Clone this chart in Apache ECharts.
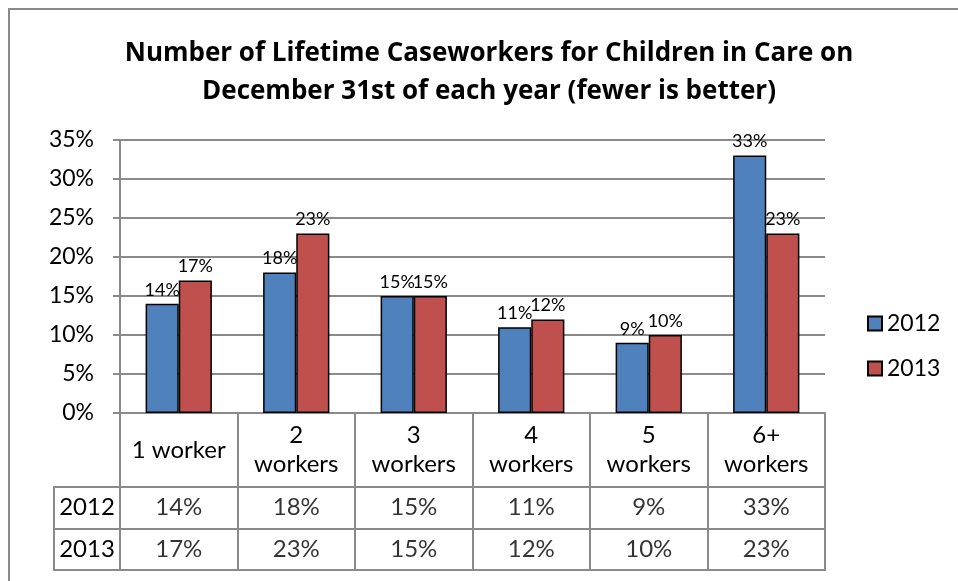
<!DOCTYPE html>
<html>
<head>
<meta charset="utf-8">
<script src="https://cdn.jsdelivr.net/npm/echarts@6/dist/echarts.min.js"></script>
<style>html,body{margin:0;padding:0;background:#fff;}#c{width:958px;height:581px;}</style>
</head>
<body>
<div id="c"></div>
<script>
var titleText = 'Number of Lifetime Caseworkers for Children in Care on\nDecember 31st of each year (fewer is better)';
var categories = ['1 worker', '2\nworkers', '3\nworkers', '4\nworkers', '5\nworkers', '6+\nworkers'];
var seriesNames = ['2012', '2013'];
var values2012 = [14, 18, 15, 11, 9, 33];
var values2013 = [17, 23, 15, 12, 10, 23];
var yMin = 0, yMax = 35, yStep = 5;

var FONT = 'Lato';
var GRAY = '#8a8a8a';
var colors = ['#4F81BD', '#C0504D'];

var tableData = [];
[values2012, values2013].forEach(function (arr, r) {
  arr.forEach(function (v, i) { tableData.push([i, r, v]); });
});

var chart = echarts.init(document.getElementById('c'), null, {renderer: 'canvas'});
chart.setOption({
  animation: false,
  backgroundColor: '#fff',
  textStyle: {fontFamily: FONT},
  title: {
    text: titleText,
    left: 489,
    top: 35,
    padding: 0,
    textAlign: 'center',
    textStyle: {fontFamily: 'Open Sans', fontWeight: 'bold', fontSize: 26, lineHeight: 38, color: '#000'}
  },
  legend: {
    data: seriesNames,
    orient: 'vertical',
    left: 867,
    top: 312,
    padding: 0,
    icon: 'rect',
    itemWidth: 14,
    itemHeight: 14,
    itemGap: 22,
    textStyle: {fontFamily: FONT, fontSize: 23, color: '#000'}
  },
  graphic: [{
    type: 'rect',
    shape: {x: 9, y: 9, width: 1200, height: 1200},
    style: {fill: null, stroke: GRAY, lineWidth: 2},
    silent: true
  }],
  grid: [
    {left: 120, right: 133, top: 140, bottom: 168},
    {left: 120, right: 133, top: 487, height: 83, show: true, borderColor: GRAY, borderWidth: 2, backgroundColor: 'transparent'}
  ],
  xAxis: [
    {
      type: 'category', gridIndex: 0, data: categories,
      axisLine: {show: true, lineStyle: {color: GRAY, width: 2}},
      axisTick: {show: true, length: 74, interval: 0, lineStyle: {color: GRAY, width: 2}},
      axisLabel: {interval: 0, margin: 37, verticalAlign: 'middle', fontFamily: FONT, fontSize: 24, lineHeight: 29, color: '#000'}
    },
    {
      type: 'category', gridIndex: 1, data: categories,
      axisLine: {show: false}, axisTick: {show: false}, axisLabel: {show: false},
      splitLine: {show: true, interval: 0, lineStyle: {color: GRAY, width: 2}}
    }
  ],
  yAxis: [
    {
      type: 'value', gridIndex: 0, min: yMin, max: yMax, interval: yStep,
      axisLine: {show: true, lineStyle: {color: GRAY, width: 2}},
      axisTick: {show: true, length: 7, lineStyle: {color: GRAY, width: 2}},
      axisLabel: {formatter: '{value}%', margin: 26, fontFamily: FONT, fontSize: 23, color: '#000'},
      splitLine: {show: true, lineStyle: {color: GRAY, width: 2}}
    },
    {
      type: 'category', gridIndex: 1, data: seriesNames, inverse: true,
      axisLine: {show: false},
      axisTick: {show: true, length: 66, interval: 0, lineStyle: {color: GRAY, width: 2}},
      axisLabel: {align: 'center', margin: 33, fontFamily: FONT, fontSize: 24, color: '#000'},
      splitLine: {show: true, interval: 0, lineStyle: {color: GRAY, width: 2}}
    },
    {
      type: 'category', gridIndex: 1, data: seriesNames, inverse: true, position: 'left', offset: 66,
      axisLine: {show: true, lineStyle: {color: GRAY, width: 2}},
      axisTick: {show: false}, axisLabel: {show: false}, splitLine: {show: false}
    }
  ],
  series: [
    {
      name: seriesNames[0], type: 'bar', xAxisIndex: 0, yAxisIndex: 0, data: values2012,
      barGap: '0%', barCategoryGap: '43.6%',
      itemStyle: {color: colors[0], borderColor: '#000', borderWidth: 1.5},
      label: {show: true, position: 'top', distance: 5, formatter: '{c}%', fontFamily: FONT, fontSize: 18, color: '#000'}
    },
    {
      name: seriesNames[1], type: 'bar', xAxisIndex: 0, yAxisIndex: 0, data: values2013,
      barGap: '0%', barCategoryGap: '43.6%',
      itemStyle: {color: colors[1], borderColor: '#000', borderWidth: 1.5},
      label: {show: true, position: 'top', distance: 5, formatter: '{c}%', fontFamily: FONT, fontSize: 18, color: '#000'}
    },
    {
      name: 'table', type: 'scatter', xAxisIndex: 1, yAxisIndex: 1, data: tableData,
      symbolSize: 0, silent: true,
      label: {show: true, position: 'inside', formatter: function (p) { return p.value[2] + '%'; }, fontFamily: FONT, fontSize: 24, color: '#000'}
    }
  ]
});
</script>
</body>
</html>
